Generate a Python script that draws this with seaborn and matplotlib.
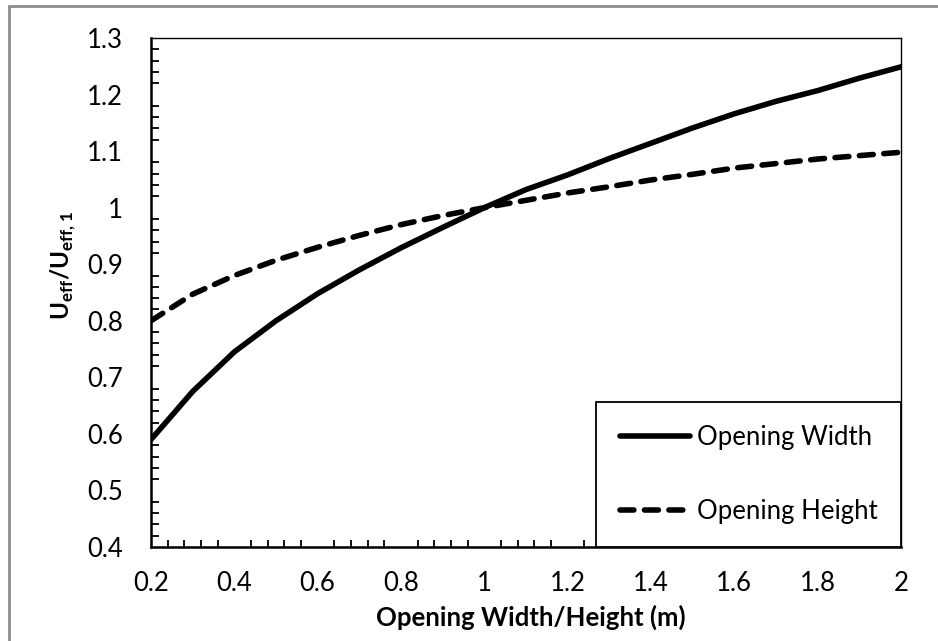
import matplotlib
matplotlib.use("Agg")
import matplotlib.pyplot as plt
from matplotlib.lines import Line2D
from matplotlib.ticker import MultipleLocator, FuncFormatter
import seaborn as sns
import pandas as pd

# ---- data ----
opening_size = [0.2, 0.3, 0.4, 0.5, 0.6, 0.7, 0.8, 0.9, 1.0, 1.1,
                1.2, 1.3, 1.4, 1.5, 1.6, 1.7, 1.8, 1.9, 2.0]
ratio_width = [0.59, 0.675, 0.745, 0.80, 0.848, 0.89, 0.929, 0.965, 1.0, 1.032,
               1.058, 1.087, 1.114, 1.141, 1.166, 1.188, 1.207, 1.229, 1.249]
ratio_height = [0.80, 0.847, 0.88, 0.907, 0.93, 0.951, 0.97, 0.986, 1.0, 1.013,
                1.026, 1.037, 1.049, 1.059, 1.07, 1.078, 1.086, 1.092, 1.098]
series_names = ["Opening Width", "Opening Height"]
x_label = "Opening Width/Height (m)"
y_label = r"$\mathbf{U}_{\mathbf{eff}}\mathbf{/U}_{\mathbf{eff,1}}$"

sns.set_theme(style="white")
plt.rcParams["font.family"] = ["Lato", "DejaVu Sans"]
plt.rcParams["mathtext.fontset"] = "custom"
plt.rcParams["mathtext.rm"] = "Lato"
plt.rcParams["mathtext.bf"] = "Lato:bold"

FS = 18.5
LW = 4.0

df = pd.DataFrame({"x": opening_size, "w": ratio_width, "h": ratio_height})

fig = plt.figure(figsize=(9.38, 6.41), dpi=100)
fig.patch.set_facecolor("white")
ax = fig.add_axes([151/938, 1-547/641, 750/938, 509/641])

sns.lineplot(data=df, x="x", y="w", ax=ax, color="black", lw=LW,
             label=series_names[0], solid_capstyle="round")
sns.lineplot(data=df, x="x", y="h", ax=ax, color="black", lw=LW,
             label=series_names[1], linestyle=(0, (2.5, 1.9)),
             dash_capstyle="round")

ax.set_xlim(0.2, 2.0)
ax.set_ylim(0.4, 1.3)
ax.xaxis.set_major_locator(MultipleLocator(0.2))
ax.xaxis.set_minor_locator(MultipleLocator(0.04))
ax.yaxis.set_major_locator(MultipleLocator(0.1))
ax.yaxis.set_minor_locator(MultipleLocator(0.02))
fmt = FuncFormatter(lambda v, p: f"{round(v, 2):g}")
ax.xaxis.set_major_formatter(fmt)
ax.yaxis.set_major_formatter(fmt)

ax.tick_params(axis="both", which="both", direction="in", color="black",
               labelsize=FS, labelcolor="black")
ax.tick_params(axis="x", which="major", length=8, width=1.3, pad=17, top=False)
ax.tick_params(axis="x", which="minor", length=5, width=1.3, top=False, bottom=True)
ax.tick_params(axis="y", which="major", length=7, width=1.3, pad=20, right=False)
ax.tick_params(axis="y", which="minor", length=6, width=1.3, right=False, left=True)

for side in ["left", "bottom"]:
    ax.spines[side].set_color("black")
    ax.spines[side].set_linewidth(1.8)
for side in ["top", "right"]:
    ax.spines[side].set_color("black")
    ax.spines[side].set_linewidth(1.0)
    ax.spines[side].set_visible(True)

ax.set_xlabel(x_label, fontsize=FS, fontweight="bold", color="black")
ax.xaxis.set_label_coords(0.507, -0.114)
ax.set_ylabel(y_label, fontsize=17.5, color="black")
ax.yaxis.set_label_coords(-0.097, 0.554)

leg = ax.legend(loc="lower right", bbox_to_anchor=(1.0, 0.0), borderaxespad=0,
                fontsize=FS, handlelength=2.75, handletextpad=0.27,
                borderpad=0.9, labelspacing=1.9, fancybox=False,
                framealpha=1, edgecolor="black")
leg.get_frame().set_linewidth(1.3)
for t in leg.get_texts():
    t.set_color("black")

# outer chart border (gray)
fig.add_artist(Line2D([9/938, 9/938], [0, 1-6/641], transform=fig.transFigure,
                      color="#8c8c8c", lw=2))
fig.add_artist(Line2D([9/938, 1], [1-6/641, 1-6/641], transform=fig.transFigure,
                      color="#8c8c8c", lw=2))

fig.savefig("out.png", dpi=100, facecolor="white")
